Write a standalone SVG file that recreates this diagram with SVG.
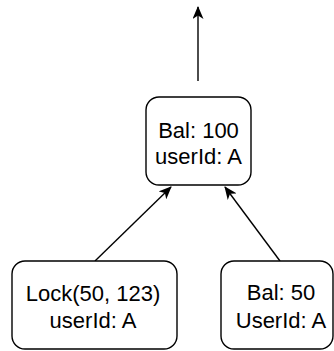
<svg xmlns="http://www.w3.org/2000/svg" width="334" height="351" viewBox="0 0 334 351">
<defs>
<style>
.box{fill:#fff;stroke:#000;stroke-width:1.4}
.t{font-family:"Liberation Sans",Arial,sans-serif;font-size:22px;fill:#000;text-anchor:middle}
.e{stroke:#000;stroke-width:1.4;fill:none}
</style>
<marker id="ah" markerUnits="userSpaceOnUse" viewBox="0 0 13 11" refX="12" refY="5.5" markerWidth="13" markerHeight="11" orient="auto">
<path d="M0,0 L13,5.5 L0,11 L3.5,5.5 Z" fill="#000"/>
</marker>
</defs>
<rect width="334" height="351" fill="#fff"/>
<g id="connectors">
<line class="e" x1="198" y1="81" x2="198" y2="7" marker-end="url(#ah)"/>
<line class="e" x1="95" y1="261" x2="171" y2="187" marker-end="url(#ah)"/>
<line class="e" x1="280" y1="261" x2="225" y2="187" marker-end="url(#ah)"/>
</g>
<g id="top">
<rect class="box" x="146" y="97" width="105" height="88" rx="13"/>
<text class="t" x="198.5" y="138">Bal: 100</text>
<text class="t" x="198.5" y="164">userId: A</text>
</g>
<g id="lock">
<rect class="box" x="12" y="261" width="165" height="88" rx="13"/>
<text class="t" x="93" y="301">Lock(50, 123)</text>
<text class="t" x="93" y="327.5">userId: A</text>
</g>
<g id="bal50">
<rect class="box" x="221" y="261" width="112" height="88" rx="13"/>
<text class="t" x="281" y="300">Bal: 50</text>
<text class="t" x="281" y="327.5">UserId: A</text>
</g>
</svg>
